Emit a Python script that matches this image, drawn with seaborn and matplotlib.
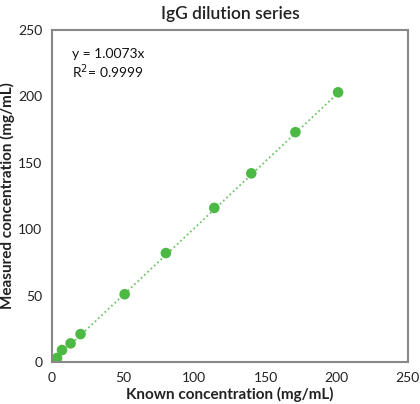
import numpy as np
import pandas as pd
import seaborn as sns
import matplotlib.pyplot as plt

# IgG dilution series - known vs measured
known = [3.5, 7, 13, 20, 51, 80, 114, 140, 171, 201]
measured = [3, 9, 14, 21, 51, 82, 116, 142, 173, 203]
slope = 1.0073
fit_label = "y = 1.0073x\nR$^2$= 0.9999"
ticks = [0, 50, 100, 150, 200, 250]

df = pd.DataFrame({"known": known, "measured": measured})

sns.set_style("white")
plt.rcParams['font.family'] = ['Lato', 'DejaVu Sans']

fig = plt.figure(figsize=(4.2, 4.04), dpi=100)
ax = fig.add_axes([0.124, 0.104, 0.847, 0.822])

green = "#4cb944"
fit_x = np.array([0, max(known)])
ax.plot(fit_x, slope * fit_x, color=green, ls=(0, (1, 1.5)), lw=1.3, alpha=0.8, zorder=1)
sns.scatterplot(data=df, x="known", y="measured", ax=ax, color=green,
                s=58, edgecolor="none", zorder=2)

ax.set_xlim(0, 250)
ax.set_ylim(0, 250)
ax.set_xticks(ticks)
ax.set_yticks(ticks)
ax.tick_params(direction="out", length=4, width=1, color="#888888",
               labelsize=10, labelcolor="#222222", pad=3)
for sp in ax.spines.values():
    sp.set_color("#888888")
    sp.set_linewidth(1.5)

ax.set_title("IgG dilution series", fontsize=12.5, fontweight="semibold", color="#222222", pad=8)
ax.set_xlabel("Known concentration (mg/mL)", fontsize=11, fontweight="bold", color="#222222", labelpad=2)
ax.set_ylabel("Measured concentration (mg/mL)", fontsize=11, fontweight="bold", color="#222222", labelpad=2)
ax.text(14, 236, fit_label, fontsize=10, color="#111111", va="top", linespacing=1.1)

fig.savefig("out.png", dpi=100)
